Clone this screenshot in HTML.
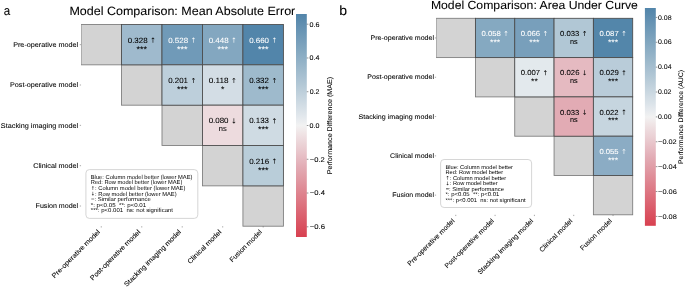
<!DOCTYPE html>
<html><head><meta charset="utf-8"><style>
html,body{margin:0;padding:0;background:#fff;}
svg{display:block;will-change:transform;}
text{font-family:"Liberation Sans", sans-serif;white-space:pre;text-rendering:geometricPrecision;}
</style></head><body>
<svg width="685" height="288" viewBox="0 0 685 288">
<rect width="685" height="288" fill="#fff"/>
<defs><clipPath id="g1c"><rect x="81.05" y="21.50" width="205.35" height="207.70"/></clipPath></defs>
<g clip-path="url(#g1c)">
<rect x="81.05" y="24.50" width="40.47" height="40.34" fill="#d3d3d3" stroke="#7a7a7a" stroke-width="0.85"/>
<rect x="121.52" y="64.84" width="40.47" height="40.34" fill="#d3d3d3" stroke="#7a7a7a" stroke-width="0.85"/>
<rect x="161.99" y="105.18" width="40.47" height="40.34" fill="#d3d3d3" stroke="#7a7a7a" stroke-width="0.85"/>
<rect x="202.46" y="145.52" width="40.47" height="40.34" fill="#d3d3d3" stroke="#7a7a7a" stroke-width="0.85"/>
<rect x="242.93" y="185.86" width="40.47" height="40.34" fill="#d3d3d3" stroke="#7a7a7a" stroke-width="0.85"/>
<rect x="121.52" y="24.50" width="40.47" height="40.34" fill="#9fbacd" stroke="#4a4a4a" stroke-width="0.85"/>
<rect x="161.99" y="24.50" width="40.47" height="40.34" fill="#709ab8" stroke="#4a4a4a" stroke-width="0.85"/>
<rect x="202.46" y="24.50" width="40.47" height="40.34" fill="#83a7c0" stroke="#4a4a4a" stroke-width="0.85"/>
<rect x="242.93" y="24.50" width="40.47" height="40.34" fill="#5285aa" stroke="#4a4a4a" stroke-width="0.85"/>
<rect x="161.99" y="64.84" width="40.47" height="40.34" fill="#bdcfdb" stroke="#4a4a4a" stroke-width="0.85"/>
<rect x="202.46" y="64.84" width="40.47" height="40.34" fill="#d3dde5" stroke="#4a4a4a" stroke-width="0.85"/>
<rect x="242.93" y="64.84" width="40.47" height="40.34" fill="#9ebacc" stroke="#4a4a4a" stroke-width="0.85"/>
<rect x="202.46" y="105.18" width="40.47" height="40.34" fill="#eddbde" stroke="#4a4a4a" stroke-width="0.85"/>
<rect x="242.93" y="105.18" width="40.47" height="40.34" fill="#cfdbe3" stroke="#4a4a4a" stroke-width="0.85"/>
<rect x="242.93" y="145.52" width="40.47" height="40.34" fill="#b9cdd9" stroke="#4a4a4a" stroke-width="0.85"/>
</g>
<text x="127.74" y="42.70" font-size="7.54" fill="#000000" stroke="#000000" stroke-width="0.07" textLength="19.89" lengthAdjust="spacingAndGlyphs">0.328</text>
<path d="M397 -732H441L632 -540L574 -481L460 -596V0H377V-596L263 -481L205 -540Z" transform="translate(150.01 42.70) scale(0.00705)" fill="#000000"/>
<text x="136.53" y="51.71" font-size="8.32" fill="#000000" stroke="#000000" stroke-width="0.07" textLength="10.44" lengthAdjust="spacingAndGlyphs">***</text>
<text x="168.21" y="42.70" font-size="7.54" fill="#ffffff" stroke="#ffffff" stroke-width="0.07" textLength="19.89" lengthAdjust="spacingAndGlyphs">0.528</text>
<path d="M397 -732H441L632 -540L574 -481L460 -596V0H377V-596L263 -481L205 -540Z" transform="translate(190.48 42.70) scale(0.00705)" fill="#ffffff"/>
<text x="177.00" y="51.71" font-size="8.32" fill="#ffffff" stroke="#ffffff" stroke-width="0.07" textLength="10.44" lengthAdjust="spacingAndGlyphs">***</text>
<text x="208.68" y="42.70" font-size="7.54" fill="#ffffff" stroke="#ffffff" stroke-width="0.07" textLength="19.89" lengthAdjust="spacingAndGlyphs">0.448</text>
<path d="M397 -732H441L632 -540L574 -481L460 -596V0H377V-596L263 -481L205 -540Z" transform="translate(230.95 42.70) scale(0.00705)" fill="#ffffff"/>
<text x="217.47" y="51.71" font-size="8.32" fill="#ffffff" stroke="#ffffff" stroke-width="0.07" textLength="10.44" lengthAdjust="spacingAndGlyphs">***</text>
<text x="249.15" y="42.70" font-size="7.54" fill="#ffffff" stroke="#ffffff" stroke-width="0.07" textLength="19.87" lengthAdjust="spacingAndGlyphs">0.660</text>
<path d="M397 -732H441L632 -540L574 -481L460 -596V0H377V-596L263 -481L205 -540Z" transform="translate(271.42 42.70) scale(0.00705)" fill="#ffffff"/>
<text x="257.94" y="51.71" font-size="8.32" fill="#ffffff" stroke="#ffffff" stroke-width="0.07" textLength="10.44" lengthAdjust="spacingAndGlyphs">***</text>
<text x="168.22" y="83.04" font-size="7.54" fill="#000000" stroke="#000000" stroke-width="0.07" textLength="19.76" lengthAdjust="spacingAndGlyphs">0.201</text>
<path d="M397 -732H441L632 -540L574 -481L460 -596V0H377V-596L263 -481L205 -540Z" transform="translate(190.48 83.04) scale(0.00705)" fill="#000000"/>
<text x="177.00" y="92.05" font-size="8.32" fill="#000000" stroke="#000000" stroke-width="0.07" textLength="10.44" lengthAdjust="spacingAndGlyphs">***</text>
<text x="208.68" y="83.04" font-size="7.54" fill="#000000" stroke="#000000" stroke-width="0.07" textLength="19.89" lengthAdjust="spacingAndGlyphs">0.118</text>
<path d="M397 -732H441L632 -540L574 -481L460 -596V0H377V-596L263 -481L205 -540Z" transform="translate(230.95 83.04) scale(0.00705)" fill="#000000"/>
<text x="221.00" y="92.05" font-size="8.32" fill="#000000" stroke="#000000" stroke-width="0.07" textLength="3.38" lengthAdjust="spacingAndGlyphs">*</text>
<text x="249.16" y="83.04" font-size="7.54" fill="#000000" stroke="#000000" stroke-width="0.07" textLength="19.72" lengthAdjust="spacingAndGlyphs">0.332</text>
<path d="M397 -732H441L632 -540L574 -481L460 -596V0H377V-596L263 -481L205 -540Z" transform="translate(271.42 83.04) scale(0.00705)" fill="#000000"/>
<text x="257.94" y="92.05" font-size="8.32" fill="#000000" stroke="#000000" stroke-width="0.07" textLength="10.44" lengthAdjust="spacingAndGlyphs">***</text>
<text x="208.68" y="123.38" font-size="7.54" fill="#000000" stroke="#000000" stroke-width="0.07" textLength="19.87" lengthAdjust="spacingAndGlyphs">0.080</text>
<path d="M441 3H397L205 -189L263 -248L377 -133V-729H460V-133L574 -248L632 -189Z" transform="translate(230.95 123.38) scale(0.00705)" fill="#000000"/>
<text x="218.77" y="131.35" font-size="7.54" fill="#000000" stroke="#000000" stroke-width="0.07" textLength="7.93" lengthAdjust="spacingAndGlyphs">ns</text>
<text x="249.16" y="123.38" font-size="7.54" fill="#000000" stroke="#000000" stroke-width="0.07" textLength="19.81" lengthAdjust="spacingAndGlyphs">0.133</text>
<path d="M397 -732H441L632 -540L574 -481L460 -596V0H377V-596L263 -481L205 -540Z" transform="translate(271.42 123.38) scale(0.00705)" fill="#000000"/>
<text x="257.94" y="132.39" font-size="8.32" fill="#000000" stroke="#000000" stroke-width="0.07" textLength="10.44" lengthAdjust="spacingAndGlyphs">***</text>
<text x="249.15" y="163.72" font-size="7.54" fill="#000000" stroke="#000000" stroke-width="0.07" textLength="19.94" lengthAdjust="spacingAndGlyphs">0.216</text>
<path d="M397 -732H441L632 -540L574 -481L460 -596V0H377V-596L263 -481L205 -540Z" transform="translate(271.42 163.72) scale(0.00705)" fill="#000000"/>
<text x="257.94" y="172.73" font-size="8.32" fill="#000000" stroke="#000000" stroke-width="0.07" textLength="10.44" lengthAdjust="spacingAndGlyphs">***</text>
<line x1="79.75" y1="44.67" x2="81.05" y2="44.67" stroke="#555" stroke-width="0.5"/>
<text x="13.15" y="46.87" font-size="6.85" fill="#000000" stroke="#000000" stroke-width="0.07" textLength="65.03" lengthAdjust="spacingAndGlyphs">Pre-operative model</text>
<line x1="79.75" y1="85.01" x2="81.05" y2="85.01" stroke="#555" stroke-width="0.5"/>
<text x="9.96" y="87.21" font-size="6.85" fill="#000000" stroke="#000000" stroke-width="0.07" textLength="68.22" lengthAdjust="spacingAndGlyphs">Post-operative model</text>
<line x1="79.75" y1="125.35" x2="81.05" y2="125.35" stroke="#555" stroke-width="0.5"/>
<text x="0.88" y="127.55" font-size="6.85" fill="#000000" stroke="#000000" stroke-width="0.07" textLength="77.30" lengthAdjust="spacingAndGlyphs">Stacking imaging model</text>
<line x1="79.75" y1="165.69" x2="81.05" y2="165.69" stroke="#555" stroke-width="0.5"/>
<text x="33.25" y="167.89" font-size="6.85" fill="#000000" stroke="#000000" stroke-width="0.07" textLength="44.93" lengthAdjust="spacingAndGlyphs">Clinical model</text>
<line x1="79.75" y1="206.03" x2="81.05" y2="206.03" stroke="#555" stroke-width="0.5"/>
<text x="35.56" y="208.23" font-size="6.85" fill="#000000" stroke="#000000" stroke-width="0.07" textLength="42.61" lengthAdjust="spacingAndGlyphs">Fusion model</text>
<line x1="101.28" y1="226.20" x2="101.28" y2="227.50" stroke="#555" stroke-width="0.5"/>
<text x="35.46" y="232.37" font-size="6.85" fill="#000000" stroke="#000000" stroke-width="0.07" textLength="65.03" lengthAdjust="spacingAndGlyphs" transform="rotate(-45 100.60 232.37)">Pre-operative model</text>
<line x1="141.75" y1="226.20" x2="141.75" y2="227.50" stroke="#555" stroke-width="0.5"/>
<text x="72.74" y="232.37" font-size="6.85" fill="#000000" stroke="#000000" stroke-width="0.07" textLength="68.22" lengthAdjust="spacingAndGlyphs" transform="rotate(-45 141.07 232.37)">Post-operative model</text>
<line x1="182.22" y1="226.20" x2="182.22" y2="227.50" stroke="#555" stroke-width="0.5"/>
<text x="104.13" y="232.37" font-size="6.85" fill="#000000" stroke="#000000" stroke-width="0.07" textLength="77.30" lengthAdjust="spacingAndGlyphs" transform="rotate(-45 181.54 232.37)">Stacking imaging model</text>
<line x1="222.69" y1="226.20" x2="222.69" y2="227.50" stroke="#555" stroke-width="0.5"/>
<text x="176.97" y="232.37" font-size="6.85" fill="#000000" stroke="#000000" stroke-width="0.07" textLength="44.93" lengthAdjust="spacingAndGlyphs" transform="rotate(-45 222.01 232.37)">Clinical model</text>
<line x1="263.17" y1="226.20" x2="263.17" y2="227.50" stroke="#555" stroke-width="0.5"/>
<text x="219.75" y="232.37" font-size="6.85" fill="#000000" stroke="#000000" stroke-width="0.07" textLength="42.61" lengthAdjust="spacingAndGlyphs" transform="rotate(-45 262.49 232.37)">Fusion model</text>
<text x="69.45" y="14.85" font-size="11.97" fill="#000000" stroke="#000000" stroke-width="0.07" textLength="225.84" lengthAdjust="spacingAndGlyphs">Model Comparison: Mean Absolute Error</text>
<rect x="85.9" y="169.6" width="111.90" height="48.80" rx="3.5" fill="#fff" fill-opacity="0.8" stroke="#cccccc" stroke-width="0.8"/>
<text x="90.78" y="178.70" font-size="5.75" fill="#000000" textLength="101.65" lengthAdjust="spacingAndGlyphs">Blue: Column model better (lower MAE)</text>
<text x="90.78" y="184.30" font-size="5.75" fill="#000000" textLength="91.52" lengthAdjust="spacingAndGlyphs">Red: Row model better (lower MAE)</text>
<path d="M397 -732H441L632 -540L574 -481L460 -596V0H377V-596L263 -481L205 -540Z" transform="translate(90.75 189.90) scale(0.00513)" fill="#000000"/>
<text x="95.12" y="189.90" font-size="5.75" fill="#000000" textLength="90.25" lengthAdjust="spacingAndGlyphs">: Column model better (lower MAE)</text>
<path d="M441 3H397L205 -189L263 -248L377 -133V-729H460V-133L574 -248L632 -189Z" transform="translate(90.75 195.50) scale(0.00513)" fill="#000000"/>
<text x="95.12" y="195.50" font-size="5.75" fill="#000000" textLength="81.50" lengthAdjust="spacingAndGlyphs">: Row model better (lower MAE)</text>
<text x="91.00" y="201.10" font-size="5.75" fill="#000000" textLength="59.75" lengthAdjust="spacingAndGlyphs">=: Similar performance</text>
<text x="90.80" y="206.70" font-size="5.75" fill="#000000" textLength="55.40" lengthAdjust="spacingAndGlyphs">*: p&lt;0.05  **: p&lt;0.01</text>
<text x="90.81" y="212.30" font-size="5.75" fill="#000000" textLength="82.23" lengthAdjust="spacingAndGlyphs">***: p&lt;0.001  ns: not significant</text>
<defs><linearGradient id="g1" x1="0" y1="0" x2="0" y2="1"><stop offset="0.000" stop-color="#5285aa"/><stop offset="0.031" stop-color="#5b8bae"/><stop offset="0.062" stop-color="#6592b3"/><stop offset="0.094" stop-color="#6e99b7"/><stop offset="0.125" stop-color="#789fbb"/><stop offset="0.156" stop-color="#81a6bf"/><stop offset="0.188" stop-color="#8badc4"/><stop offset="0.219" stop-color="#94b3c8"/><stop offset="0.250" stop-color="#9ebacc"/><stop offset="0.281" stop-color="#a8c0d1"/><stop offset="0.312" stop-color="#b1c7d5"/><stop offset="0.344" stop-color="#bcceda"/><stop offset="0.375" stop-color="#c6d5df"/><stop offset="0.406" stop-color="#d1dce4"/><stop offset="0.438" stop-color="#dbe3e9"/><stop offset="0.469" stop-color="#e6eaee"/><stop offset="0.500" stop-color="#f2f2f2"/><stop offset="0.531" stop-color="#f0e6e7"/><stop offset="0.562" stop-color="#eddadd"/><stop offset="0.594" stop-color="#eacfd3"/><stop offset="0.625" stop-color="#e8c3c9"/><stop offset="0.656" stop-color="#e5b7bf"/><stop offset="0.688" stop-color="#e2abb4"/><stop offset="0.719" stop-color="#e1a1aa"/><stop offset="0.750" stop-color="#e096a0"/><stop offset="0.781" stop-color="#df8b96"/><stop offset="0.812" stop-color="#de808c"/><stop offset="0.844" stop-color="#dd7682"/><stop offset="0.875" stop-color="#dc6b78"/><stop offset="0.906" stop-color="#db606e"/><stop offset="0.938" stop-color="#da5564"/><stop offset="0.969" stop-color="#d94b5a"/><stop offset="1.000" stop-color="#d84050"/></linearGradient></defs>
<rect x="296.0" y="14.0" width="10.80" height="223.00" fill="url(#g1)"/>
<line x1="306.80" y1="24.20" x2="308.40" y2="24.20" stroke="#262626" stroke-width="0.5"/>
<text x="309.64" y="26.50" font-size="6.85" fill="#000000" stroke="#000000" stroke-width="0.07" textLength="9.95" lengthAdjust="spacingAndGlyphs">0.6</text>
<line x1="306.80" y1="57.97" x2="308.40" y2="57.97" stroke="#262626" stroke-width="0.5"/>
<text x="309.64" y="60.27" font-size="6.85" fill="#000000" stroke="#000000" stroke-width="0.07" textLength="9.88" lengthAdjust="spacingAndGlyphs">0.4</text>
<line x1="306.80" y1="91.73" x2="308.40" y2="91.73" stroke="#262626" stroke-width="0.5"/>
<text x="309.65" y="94.03" font-size="6.85" fill="#000000" stroke="#000000" stroke-width="0.07" textLength="9.74" lengthAdjust="spacingAndGlyphs">0.2</text>
<line x1="306.80" y1="125.50" x2="308.40" y2="125.50" stroke="#262626" stroke-width="0.5"/>
<text x="309.64" y="127.80" font-size="6.85" fill="#000000" stroke="#000000" stroke-width="0.07" textLength="9.89" lengthAdjust="spacingAndGlyphs">0.0</text>
<line x1="306.80" y1="159.27" x2="308.40" y2="159.27" stroke="#262626" stroke-width="0.5"/>
<text x="309.80" y="161.57" font-size="6.85" fill="#000000" stroke="#000000" stroke-width="0.07" textLength="14.98" lengthAdjust="spacingAndGlyphs">−0.2</text>
<line x1="306.80" y1="193.03" x2="308.40" y2="193.03" stroke="#262626" stroke-width="0.5"/>
<text x="309.80" y="195.33" font-size="6.85" fill="#000000" stroke="#000000" stroke-width="0.07" textLength="15.10" lengthAdjust="spacingAndGlyphs">−0.4</text>
<line x1="306.80" y1="226.80" x2="308.40" y2="226.80" stroke="#262626" stroke-width="0.5"/>
<text x="309.80" y="229.10" font-size="6.85" fill="#000000" stroke="#000000" stroke-width="0.07" textLength="15.18" lengthAdjust="spacingAndGlyphs">−0.6</text>
<text x="282.75" y="125.50" font-size="6.88" fill="#000000" stroke="#000000" stroke-width="0.07" textLength="97.43" lengthAdjust="spacingAndGlyphs" transform="rotate(-90 331.50 125.50)">Performance Difference (MAE)</text>
<defs><clipPath id="g2c"><rect x="436.10" y="15.30" width="199.60" height="202.50"/></clipPath></defs>
<g clip-path="url(#g2c)">
<rect x="436.10" y="18.30" width="39.32" height="39.30" fill="#d3d3d3" stroke="#7a7a7a" stroke-width="0.85"/>
<rect x="475.42" y="57.60" width="39.32" height="39.30" fill="#d3d3d3" stroke="#7a7a7a" stroke-width="0.85"/>
<rect x="514.74" y="96.90" width="39.32" height="39.30" fill="#d3d3d3" stroke="#7a7a7a" stroke-width="0.85"/>
<rect x="554.06" y="136.20" width="39.32" height="39.30" fill="#d3d3d3" stroke="#7a7a7a" stroke-width="0.85"/>
<rect x="593.38" y="175.50" width="39.32" height="39.30" fill="#d3d3d3" stroke="#7a7a7a" stroke-width="0.85"/>
<rect x="475.42" y="18.30" width="39.32" height="39.30" fill="#85a9c1" stroke="#4a4a4a" stroke-width="0.85"/>
<rect x="514.74" y="18.30" width="39.32" height="39.30" fill="#789fbb" stroke="#4a4a4a" stroke-width="0.85"/>
<rect x="554.06" y="18.30" width="39.32" height="39.30" fill="#b1c7d5" stroke="#4a4a4a" stroke-width="0.85"/>
<rect x="593.38" y="18.30" width="39.32" height="39.30" fill="#5386aa" stroke="#4a4a4a" stroke-width="0.85"/>
<rect x="514.74" y="57.60" width="39.32" height="39.30" fill="#e3e9ed" stroke="#4a4a4a" stroke-width="0.85"/>
<rect x="554.06" y="57.60" width="39.32" height="39.30" fill="#e5bac1" stroke="#4a4a4a" stroke-width="0.85"/>
<rect x="593.38" y="57.60" width="39.32" height="39.30" fill="#b9ccd9" stroke="#4a4a4a" stroke-width="0.85"/>
<rect x="554.06" y="96.90" width="39.32" height="39.30" fill="#e2abb4" stroke="#4a4a4a" stroke-width="0.85"/>
<rect x="593.38" y="96.90" width="39.32" height="39.30" fill="#c6d5df" stroke="#4a4a4a" stroke-width="0.85"/>
<rect x="593.38" y="136.20" width="39.32" height="39.30" fill="#8bacc4" stroke="#4a4a4a" stroke-width="0.85"/>
</g>
<text x="481.45" y="36.03" font-size="7.34" fill="#ffffff" stroke="#ffffff" stroke-width="0.07" textLength="19.36" lengthAdjust="spacingAndGlyphs">0.058</text>
<path d="M397 -732H441L632 -540L574 -481L460 -596V0H377V-596L263 -481L205 -540Z" transform="translate(503.12 36.03) scale(0.00686)" fill="#ffffff"/>
<text x="490.00" y="44.81" font-size="8.09" fill="#ffffff" stroke="#ffffff" stroke-width="0.07" textLength="10.16" lengthAdjust="spacingAndGlyphs">***</text>
<text x="520.77" y="36.03" font-size="7.34" fill="#ffffff" stroke="#ffffff" stroke-width="0.07" textLength="19.40" lengthAdjust="spacingAndGlyphs">0.066</text>
<path d="M397 -732H441L632 -540L574 -481L460 -596V0H377V-596L263 -481L205 -540Z" transform="translate(542.44 36.03) scale(0.00686)" fill="#ffffff"/>
<text x="529.32" y="44.81" font-size="8.09" fill="#ffffff" stroke="#ffffff" stroke-width="0.07" textLength="10.16" lengthAdjust="spacingAndGlyphs">***</text>
<text x="560.09" y="36.03" font-size="7.34" fill="#000000" stroke="#000000" stroke-width="0.07" textLength="19.28" lengthAdjust="spacingAndGlyphs">0.033</text>
<path d="M397 -732H441L632 -540L574 -481L460 -596V0H377V-596L263 -481L205 -540Z" transform="translate(581.76 36.03) scale(0.00686)" fill="#000000"/>
<text x="569.90" y="43.79" font-size="7.34" fill="#000000" stroke="#000000" stroke-width="0.07" textLength="7.71" lengthAdjust="spacingAndGlyphs">ns</text>
<text x="599.41" y="36.03" font-size="7.34" fill="#ffffff" stroke="#ffffff" stroke-width="0.07" textLength="19.29" lengthAdjust="spacingAndGlyphs">0.087</text>
<path d="M397 -732H441L632 -540L574 -481L460 -596V0H377V-596L263 -481L205 -540Z" transform="translate(621.08 36.03) scale(0.00686)" fill="#ffffff"/>
<text x="607.96" y="44.81" font-size="8.09" fill="#ffffff" stroke="#ffffff" stroke-width="0.07" textLength="10.16" lengthAdjust="spacingAndGlyphs">***</text>
<text x="520.77" y="75.33" font-size="7.34" fill="#000000" stroke="#000000" stroke-width="0.07" textLength="19.29" lengthAdjust="spacingAndGlyphs">0.007</text>
<path d="M397 -732H441L632 -540L574 -481L460 -596V0H377V-596L263 -481L205 -540Z" transform="translate(542.44 75.33) scale(0.00686)" fill="#000000"/>
<text x="531.04" y="84.11" font-size="8.09" fill="#000000" stroke="#000000" stroke-width="0.07" textLength="6.73" lengthAdjust="spacingAndGlyphs">**</text>
<text x="560.09" y="75.33" font-size="7.34" fill="#000000" stroke="#000000" stroke-width="0.07" textLength="19.40" lengthAdjust="spacingAndGlyphs">0.026</text>
<path d="M441 3H397L205 -189L263 -248L377 -133V-729H460V-133L574 -248L632 -189Z" transform="translate(581.76 75.33) scale(0.00686)" fill="#000000"/>
<text x="569.90" y="83.09" font-size="7.34" fill="#000000" stroke="#000000" stroke-width="0.07" textLength="7.71" lengthAdjust="spacingAndGlyphs">ns</text>
<text x="599.41" y="75.33" font-size="7.34" fill="#000000" stroke="#000000" stroke-width="0.07" textLength="19.37" lengthAdjust="spacingAndGlyphs">0.029</text>
<path d="M397 -732H441L632 -540L574 -481L460 -596V0H377V-596L263 -481L205 -540Z" transform="translate(621.08 75.33) scale(0.00686)" fill="#000000"/>
<text x="607.96" y="84.11" font-size="8.09" fill="#000000" stroke="#000000" stroke-width="0.07" textLength="10.16" lengthAdjust="spacingAndGlyphs">***</text>
<text x="560.09" y="114.63" font-size="7.34" fill="#000000" stroke="#000000" stroke-width="0.07" textLength="19.28" lengthAdjust="spacingAndGlyphs">0.033</text>
<path d="M441 3H397L205 -189L263 -248L377 -133V-729H460V-133L574 -248L632 -189Z" transform="translate(581.76 114.63) scale(0.00686)" fill="#000000"/>
<text x="569.90" y="122.39" font-size="7.34" fill="#000000" stroke="#000000" stroke-width="0.07" textLength="7.71" lengthAdjust="spacingAndGlyphs">ns</text>
<text x="599.41" y="114.63" font-size="7.34" fill="#000000" stroke="#000000" stroke-width="0.07" textLength="19.18" lengthAdjust="spacingAndGlyphs">0.022</text>
<path d="M397 -732H441L632 -540L574 -481L460 -596V0H377V-596L263 -481L205 -540Z" transform="translate(621.08 114.63) scale(0.00686)" fill="#000000"/>
<text x="607.96" y="123.41" font-size="8.09" fill="#000000" stroke="#000000" stroke-width="0.07" textLength="10.16" lengthAdjust="spacingAndGlyphs">***</text>
<text x="599.41" y="153.93" font-size="7.34" fill="#ffffff" stroke="#ffffff" stroke-width="0.07" textLength="19.21" lengthAdjust="spacingAndGlyphs">0.055</text>
<path d="M397 -732H441L632 -540L574 -481L460 -596V0H377V-596L263 -481L205 -540Z" transform="translate(621.08 153.93) scale(0.00686)" fill="#ffffff"/>
<text x="607.96" y="162.71" font-size="8.09" fill="#ffffff" stroke="#ffffff" stroke-width="0.07" textLength="10.16" lengthAdjust="spacingAndGlyphs">***</text>
<line x1="434.84" y1="37.95" x2="436.10" y2="37.95" stroke="#555" stroke-width="0.5"/>
<text x="370.48" y="40.05" font-size="6.69" fill="#000000" stroke="#000000" stroke-width="0.07" textLength="63.50" lengthAdjust="spacingAndGlyphs">Pre-operative model</text>
<line x1="434.84" y1="77.25" x2="436.10" y2="77.25" stroke="#555" stroke-width="0.5"/>
<text x="367.37" y="79.35" font-size="6.69" fill="#000000" stroke="#000000" stroke-width="0.07" textLength="66.62" lengthAdjust="spacingAndGlyphs">Post-operative model</text>
<line x1="434.84" y1="116.55" x2="436.10" y2="116.55" stroke="#555" stroke-width="0.5"/>
<text x="358.50" y="118.65" font-size="6.69" fill="#000000" stroke="#000000" stroke-width="0.07" textLength="75.49" lengthAdjust="spacingAndGlyphs">Stacking imaging model</text>
<line x1="434.84" y1="155.85" x2="436.10" y2="155.85" stroke="#555" stroke-width="0.5"/>
<text x="390.11" y="157.95" font-size="6.69" fill="#000000" stroke="#000000" stroke-width="0.07" textLength="43.88" lengthAdjust="spacingAndGlyphs">Clinical model</text>
<line x1="434.84" y1="195.15" x2="436.10" y2="195.15" stroke="#555" stroke-width="0.5"/>
<text x="392.36" y="197.25" font-size="6.69" fill="#000000" stroke="#000000" stroke-width="0.07" textLength="41.61" lengthAdjust="spacingAndGlyphs">Fusion model</text>
<line x1="455.76" y1="214.80" x2="455.76" y2="216.06" stroke="#555" stroke-width="0.5"/>
<text x="391.46" y="221.30" font-size="6.69" fill="#000000" stroke="#000000" stroke-width="0.07" textLength="63.50" lengthAdjust="spacingAndGlyphs" transform="rotate(-45 455.08 221.30)">Pre-operative model</text>
<line x1="495.08" y1="214.80" x2="495.08" y2="216.06" stroke="#555" stroke-width="0.5"/>
<text x="427.67" y="221.30" font-size="6.69" fill="#000000" stroke="#000000" stroke-width="0.07" textLength="66.62" lengthAdjust="spacingAndGlyphs" transform="rotate(-45 494.40 221.30)">Post-operative model</text>
<line x1="534.40" y1="214.80" x2="534.40" y2="216.06" stroke="#555" stroke-width="0.5"/>
<text x="458.12" y="221.30" font-size="6.69" fill="#000000" stroke="#000000" stroke-width="0.07" textLength="75.49" lengthAdjust="spacingAndGlyphs" transform="rotate(-45 533.72 221.30)">Stacking imaging model</text>
<line x1="573.72" y1="214.80" x2="573.72" y2="216.06" stroke="#555" stroke-width="0.5"/>
<text x="529.05" y="221.30" font-size="6.69" fill="#000000" stroke="#000000" stroke-width="0.07" textLength="43.88" lengthAdjust="spacingAndGlyphs" transform="rotate(-45 573.04 221.30)">Clinical model</text>
<line x1="613.04" y1="214.80" x2="613.04" y2="216.06" stroke="#555" stroke-width="0.5"/>
<text x="570.62" y="221.30" font-size="6.69" fill="#000000" stroke="#000000" stroke-width="0.07" textLength="41.61" lengthAdjust="spacingAndGlyphs" transform="rotate(-45 612.36 221.30)">Fusion model</text>
<text x="430.91" y="9.27" font-size="11.73" fill="#000000" stroke="#000000" stroke-width="0.07" textLength="207.01" lengthAdjust="spacingAndGlyphs">Model Comparison: Area Under Curve</text>
<rect x="440.6" y="159.5" width="91.00" height="48.00" rx="3.5" fill="#fff" fill-opacity="0.8" stroke="#cccccc" stroke-width="0.8"/>
<text x="445.52" y="168.50" font-size="5.59" fill="#000000" textLength="67.47" lengthAdjust="spacingAndGlyphs">Blue: Column model better</text>
<text x="445.53" y="174.07" font-size="5.59" fill="#000000" textLength="57.62" lengthAdjust="spacingAndGlyphs">Red: Row model better</text>
<path d="M397 -732H441L632 -540L574 -481L460 -596V0H377V-596L263 -481L205 -540Z" transform="translate(445.50 179.64) scale(0.00499)" fill="#000000"/>
<text x="449.74" y="179.64" font-size="5.59" fill="#000000" textLength="56.39" lengthAdjust="spacingAndGlyphs">: Column model better</text>
<path d="M441 3H397L205 -189L263 -248L377 -133V-729H460V-133L574 -248L632 -189Z" transform="translate(445.50 185.21) scale(0.00499)" fill="#000000"/>
<text x="449.74" y="185.21" font-size="5.59" fill="#000000" textLength="47.88" lengthAdjust="spacingAndGlyphs">: Row model better</text>
<text x="445.75" y="190.78" font-size="5.59" fill="#000000" textLength="58.12" lengthAdjust="spacingAndGlyphs">=: Similar performance</text>
<text x="445.55" y="196.35" font-size="5.59" fill="#000000" textLength="53.89" lengthAdjust="spacingAndGlyphs">*: p&lt;0.05  **: p&lt;0.01</text>
<text x="445.55" y="201.92" font-size="5.59" fill="#000000" textLength="79.98" lengthAdjust="spacingAndGlyphs">***: p&lt;0.001  ns: not significant</text>
<defs><linearGradient id="g2" x1="0" y1="0" x2="0" y2="1"><stop offset="0.000" stop-color="#5285aa"/><stop offset="0.031" stop-color="#5b8bae"/><stop offset="0.062" stop-color="#6592b3"/><stop offset="0.094" stop-color="#6e99b7"/><stop offset="0.125" stop-color="#789fbb"/><stop offset="0.156" stop-color="#81a6bf"/><stop offset="0.188" stop-color="#8badc4"/><stop offset="0.219" stop-color="#94b3c8"/><stop offset="0.250" stop-color="#9ebacc"/><stop offset="0.281" stop-color="#a8c0d1"/><stop offset="0.312" stop-color="#b1c7d5"/><stop offset="0.344" stop-color="#bcceda"/><stop offset="0.375" stop-color="#c6d5df"/><stop offset="0.406" stop-color="#d1dce4"/><stop offset="0.438" stop-color="#dbe3e9"/><stop offset="0.469" stop-color="#e6eaee"/><stop offset="0.500" stop-color="#f2f2f2"/><stop offset="0.531" stop-color="#f0e6e7"/><stop offset="0.562" stop-color="#eddadd"/><stop offset="0.594" stop-color="#eacfd3"/><stop offset="0.625" stop-color="#e8c3c9"/><stop offset="0.656" stop-color="#e5b7bf"/><stop offset="0.688" stop-color="#e2abb4"/><stop offset="0.719" stop-color="#e1a1aa"/><stop offset="0.750" stop-color="#e096a0"/><stop offset="0.781" stop-color="#df8b96"/><stop offset="0.812" stop-color="#de808c"/><stop offset="0.844" stop-color="#dd7682"/><stop offset="0.875" stop-color="#dc6b78"/><stop offset="0.906" stop-color="#db606e"/><stop offset="0.938" stop-color="#da5564"/><stop offset="0.969" stop-color="#d94b5a"/><stop offset="1.000" stop-color="#d84050"/></linearGradient></defs>
<rect x="644.9" y="8.0" width="10.90" height="217.80" fill="url(#g2)"/>
<line x1="655.80" y1="17.40" x2="657.36" y2="17.40" stroke="#262626" stroke-width="0.5"/>
<text x="657.94" y="19.60" font-size="6.69" fill="#000000" stroke="#000000" stroke-width="0.07" textLength="13.66" lengthAdjust="spacingAndGlyphs">0.08</text>
<line x1="655.80" y1="42.28" x2="657.36" y2="42.28" stroke="#262626" stroke-width="0.5"/>
<text x="657.94" y="44.48" font-size="6.69" fill="#000000" stroke="#000000" stroke-width="0.07" textLength="13.69" lengthAdjust="spacingAndGlyphs">0.06</text>
<line x1="655.80" y1="67.15" x2="657.36" y2="67.15" stroke="#262626" stroke-width="0.5"/>
<text x="657.94" y="69.35" font-size="6.69" fill="#000000" stroke="#000000" stroke-width="0.07" textLength="13.63" lengthAdjust="spacingAndGlyphs">0.04</text>
<line x1="655.80" y1="92.03" x2="657.36" y2="92.03" stroke="#262626" stroke-width="0.5"/>
<text x="657.94" y="94.23" font-size="6.69" fill="#000000" stroke="#000000" stroke-width="0.07" textLength="13.50" lengthAdjust="spacingAndGlyphs">0.02</text>
<line x1="655.80" y1="116.90" x2="657.36" y2="116.90" stroke="#262626" stroke-width="0.5"/>
<text x="657.94" y="119.10" font-size="6.69" fill="#000000" stroke="#000000" stroke-width="0.07" textLength="13.64" lengthAdjust="spacingAndGlyphs">0.00</text>
<line x1="655.80" y1="141.77" x2="657.36" y2="141.77" stroke="#262626" stroke-width="0.5"/>
<text x="658.10" y="143.97" font-size="6.69" fill="#000000" stroke="#000000" stroke-width="0.07" textLength="18.60" lengthAdjust="spacingAndGlyphs">−0.02</text>
<line x1="655.80" y1="166.65" x2="657.36" y2="166.65" stroke="#262626" stroke-width="0.5"/>
<text x="658.10" y="168.85" font-size="6.69" fill="#000000" stroke="#000000" stroke-width="0.07" textLength="18.72" lengthAdjust="spacingAndGlyphs">−0.04</text>
<line x1="655.80" y1="191.52" x2="657.36" y2="191.52" stroke="#262626" stroke-width="0.5"/>
<text x="658.10" y="193.72" font-size="6.69" fill="#000000" stroke="#000000" stroke-width="0.07" textLength="18.79" lengthAdjust="spacingAndGlyphs">−0.06</text>
<line x1="655.80" y1="216.40" x2="657.36" y2="216.40" stroke="#262626" stroke-width="0.5"/>
<text x="658.10" y="218.60" font-size="6.69" fill="#000000" stroke="#000000" stroke-width="0.07" textLength="18.75" lengthAdjust="spacingAndGlyphs">−0.08</text>
<text x="636.19" y="116.90" font-size="6.68" fill="#000000" stroke="#000000" stroke-width="0.07" textLength="94.15" lengthAdjust="spacingAndGlyphs" transform="rotate(-90 683.30 116.90)">Performance Difference (AUC)</text>
<text x="3.66" y="14.60" font-size="12.90" fill="#000000" stroke="#000000" stroke-width="0.07" textLength="6.45" lengthAdjust="spacingAndGlyphs">a</text>
<text x="339.25" y="14.70" font-size="13.55" fill="#000000" stroke="#000000" stroke-width="0.07" textLength="7.81" lengthAdjust="spacingAndGlyphs">b</text>
</svg>
</body></html>
